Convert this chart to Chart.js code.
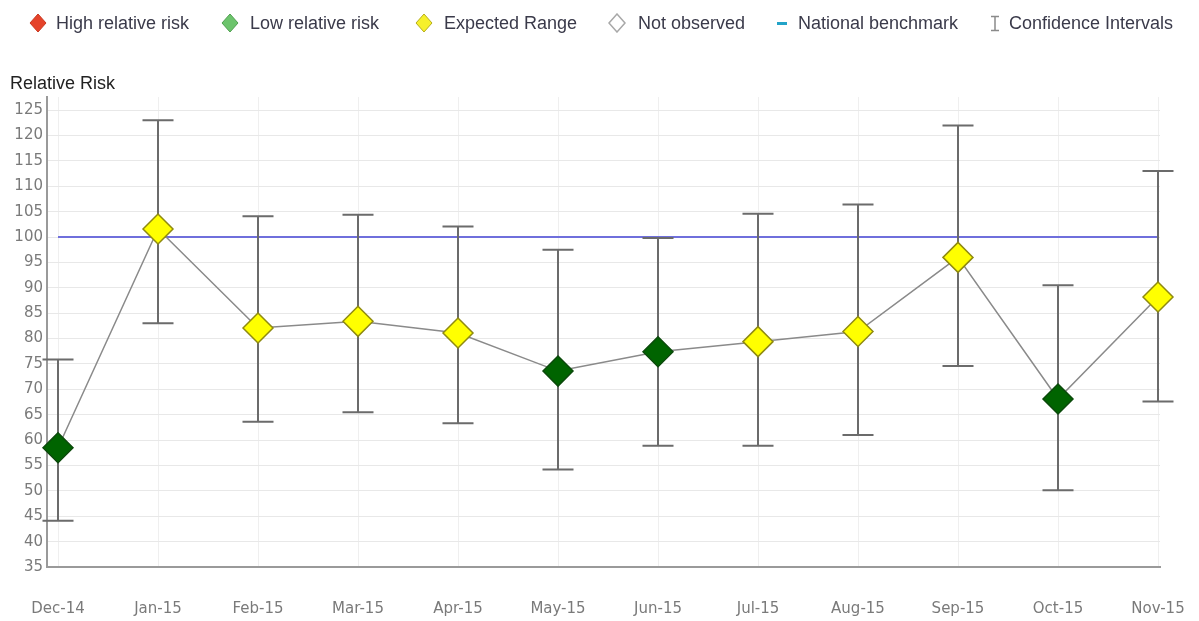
<!DOCTYPE html>
<html>
<head>
<meta charset="utf-8">
<script src="https://cdn.jsdelivr.net/npm/chart.js@4.4.1/dist/chart.umd.min.js"></script>
<style>
  body { margin: 0; background: #fff; font-family: "Liberation Sans", Arial, sans-serif; }
  #page { position: relative; width: 1199px; height: 621px; overflow: hidden; }
  #chart { position: absolute; left: 0; top: 0; }
  .leg { position: absolute; top: 13px; height: 20px; line-height: 20px; font-size: 18px; color: #3a3a4a; white-space: nowrap; }
  .ico { position: absolute; top: 13px; }
  #ytitle { position: absolute; left: 10px; top: 73px; font-size: 18px; color: #222; }
</style>
</head>
<body>
<div id="page">
  <canvas id="chart" width="1199" height="621"></canvas>

  <svg class="ico" style="left:29px" width="18" height="20"><polygon points="9,1 17,10 9,19 1,10" fill="#e5432a" stroke="#c9371f" stroke-width="1"/></svg>
  <span class="leg" style="left:56px">High relative risk</span>
  <svg class="ico" style="left:221px" width="18" height="20"><polygon points="9,1 17,10 9,19 1,10" fill="#6cc46c" stroke="#4f9f4f" stroke-width="1"/></svg>
  <span class="leg" style="left:250px">Low relative risk</span>
  <svg class="ico" style="left:415px" width="18" height="20"><polygon points="9,1 17,10 9,19 1,10" fill="#f6f02c" stroke="#b5ac1c" stroke-width="1"/></svg>
  <span class="leg" style="left:444px">Expected Range</span>
  <svg class="ico" style="left:608px" width="18" height="20"><polygon points="9,1 17,10 9,19 1,10" fill="#fff" stroke="#a8a8a8" stroke-width="1.5"/></svg>
  <span class="leg" style="left:638px">Not observed</span>
  <svg class="ico" style="left:776px" width="14" height="20"><rect x="1" y="9" width="10" height="3" fill="#22a3c8"/></svg>
  <span class="leg" style="left:798px">National benchmark</span>
  <svg class="ico" style="left:989px" width="12" height="20"><path d="M2,3.5 H10 M6,3.5 V17.5 M2,17.5 H10" stroke="#8a8a8a" stroke-width="1.5" fill="none"/></svg>
  <span class="leg" style="left:1009px">Confidence Intervals</span>

  <div id="ytitle">Relative Risk</div>
</div>
<script>
var months = ['Dec-14', 'Jan-15', 'Feb-15', 'Mar-15', 'Apr-15', 'May-15',
              'Jun-15', 'Jul-15', 'Aug-15', 'Sep-15', 'Oct-15', 'Nov-15'];
var relativeRisk = [58.5, 101.6, 82.1, 83.4, 81.1, 73.6, 77.4, 79.4, 81.4, 96.0, 68.1, 88.2];
var ciLower = [44.1, 83.0, 63.6, 65.5, 63.3, 54.2, 58.9, 58.9, 61.0, 74.6, 50.1, 67.6];
var ciUpper = [75.9, 123.0, 104.1, 104.4, 102.1, 97.5, 99.8, 104.6, 106.4, 122.0, 90.5, 113.0];
var riskBand = ['low', 'expected', 'expected', 'expected', 'expected', 'low',
                'low', 'expected', 'expected', 'expected', 'low', 'expected'];
var benchmark = 100;
var yTicks = [35, 40, 45, 50, 55, 60, 65, 70, 75, 80, 85, 90, 95, 100, 105, 110, 115, 120, 125];

var bandFill = { low: '#006400', expected: '#ffff00', high: '#e5432a' };
var bandEdge = { low: '#0b4a0b', expected: '#8f8a10', high: '#a8301c' };

// whiskers for the confidence intervals, drawn just before the risk series
var errorBars = {
    id: 'errorBars',
    beforeDatasetDraw: function (chart, args) {
        if (args.index !== 0) return;
        var xs = chart.scales.x, ys = chart.scales.y, ctx = chart.ctx;
        ctx.save();
        ctx.strokeStyle = '#6b6b6b';
        ctx.lineWidth = 2;
        for (var i = 0; i < ciLower.length; i++) {
            var px = xs.getPixelForValue(i);
            var top = ys.getPixelForValue(ciUpper[i]);
            var bot = ys.getPixelForValue(ciLower[i]);
            ctx.beginPath();
            ctx.moveTo(px, top); ctx.lineTo(px, bot);
            ctx.moveTo(px - 15.5, top); ctx.lineTo(px + 15.5, top);
            ctx.moveTo(px - 15.5, bot); ctx.lineTo(px + 15.5, bot);
            ctx.stroke();
        }
        ctx.restore();
    }
};

var riskPoints = relativeRisk.map(function (v, i) { return { x: i, y: v }; });

var ctx = document.getElementById('chart').getContext('2d');
var myChart = new Chart(ctx, {
    type: 'line',
    data: {
        datasets: [{
            label: 'Relative Risk',
            data: riskPoints,
            borderColor: '#8a8a8a',
            borderWidth: 1.5,
            tension: 0,
            clip: false,
            pointStyle: 'rectRot',
            pointRadius: 15,
            pointBorderWidth: 1.5,
            pointBackgroundColor: riskBand.map(function (b) { return bandFill[b]; }),
            pointBorderColor: riskBand.map(function (b) { return bandEdge[b]; })
        }, {
            label: 'National benchmark',
            data: [{ x: 0, y: benchmark }, { x: months.length - 1, y: benchmark }],
            borderColor: '#6f6fdc',
            borderWidth: 2,
            pointRadius: 0
        }]
    },
    options: {
        responsive: false,
        animation: false,
        maintainAspectRatio: false,
        layout: { padding: { top: 97, right: 39, left: 0, bottom: 0 } },
        plugins: {
            legend: { display: false },
            tooltip: { enabled: false }
        },
        scales: {
            x: {
                type: 'linear',
                min: -0.11,
                max: 11.02,
                afterBuildTicks: function (scale) {
                    scale.ticks = months.map(function (m, i) { return { value: i }; });
                },
                afterFit: function (scale) {
                    // labels sit well below the axis, so don't let them widen the side margins
                    scale.height = 54;
                    scale.paddingLeft = 0;
                    scale.paddingRight = 0;
                },
                grid: { color: '#efefef', drawTicks: false },
                border: { color: '#9a9a9a', width: 2 },
                ticks: {
                    autoSkip: false,
                    maxRotation: 0,
                    padding: 33,
                    color: '#7a7a7a',
                    font: { family: 'DejaVu Sans', size: 15 },
                    callback: function (v) { return months[v]; }
                }
            },
            y: {
                min: 35,
                max: 127.6,
                afterBuildTicks: function (scale) {
                    scale.ticks = yTicks.map(function (v) { return { value: v }; });
                },
                afterFit: function (scale) { scale.width = 47; },
                grid: { color: '#e8e8e8', drawTicks: false },
                border: { color: '#9a9a9a', width: 2 },
                ticks: {
                    padding: 4,
                    color: '#7a7a7a',
                    font: { family: 'DejaVu Sans', size: 15 }
                }
            }
        }
    },
    plugins: [errorBars]
});
</script>
</body>
</html>
